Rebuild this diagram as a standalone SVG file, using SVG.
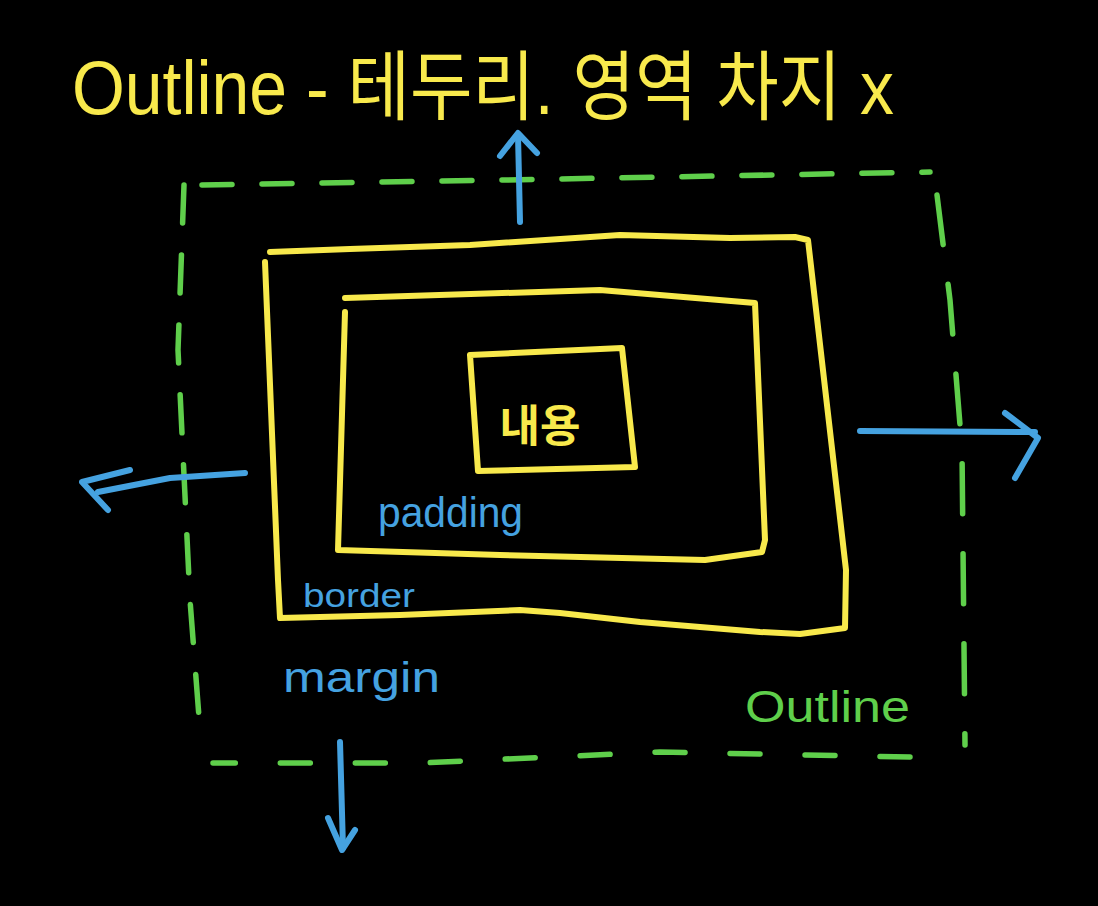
<svg xmlns="http://www.w3.org/2000/svg" width="1098" height="906" viewBox="0 0 1098 906">
<style>
.y{fill:none;stroke:#f8e94c;stroke-width:6;stroke-linecap:round;stroke-linejoin:round}
.g{fill:none;stroke:#5fcf4b;stroke-width:5.5;stroke-linecap:round;stroke-linejoin:round}
.b{fill:none;stroke:#45a2e0;stroke-width:6;stroke-linecap:round;stroke-linejoin:round}
.ty{fill:#f8e94c;font-family:"Liberation Sans","Noto Sans CJK KR",sans-serif}
.tb{fill:#45a2e0;font-family:"Liberation Sans",sans-serif}
.tg{fill:#5fcf4b;font-family:"Liberation Sans",sans-serif}
</style>
<rect x="0" y="0" width="1098" height="906" fill="#000"/>
<g id="title">
<text class="ty" x="72" y="114" font-size="76" textLength="822" lengthAdjust="spacingAndGlyphs">Outline - 테두리. 영역 차지 x</text>
</g>
<g id="outline-box">
<path class="g" d="M202,185 L505,180 L930,172" stroke-dasharray="30 30"/>
<path class="g" d="M937,195 L950,300 L962,450 L965,745" stroke-dasharray="50 40"/>
<path class="g" d="M910,757 L660,752 L420,763 L213,763" stroke-dasharray="30 45"/>
<path class="g" d="M184,185 L178,350 L190,600 L200,730" stroke-dasharray="38 32"/>
<text class="tg" x="745" y="722" font-size="44" textLength="165" lengthAdjust="spacingAndGlyphs">Outline</text>
</g>
<g id="border-box">
<path class="y" d="M265,262 L278,580 L280,618 L400,615 L520,610 L560,613 L640,622 L760,632 L800,634 L845,628 L846,570 L808,240 L795,237 L730,238 L620,235 L470,245 L350,249 L270,252"/>
<text class="tb" x="303" y="607" font-size="34" textLength="112" lengthAdjust="spacingAndGlyphs">border</text>
</g>
<g id="padding-box">
<path class="y" d="M345,312 L338,550 L500,555 L705,560 L762,552 L765,540 L755,303 L600,290 L345,298"/>
<text class="tb" x="378" y="527" font-size="42" textLength="145" lengthAdjust="spacingAndGlyphs">padding</text>
</g>
<g id="content-box">
<path class="y" d="M470,355 L622,348 L635,467 L478,471 Z"/>
<text class="ty" x="540" y="442" font-size="44" font-weight="bold" text-anchor="middle" font-family="'Noto Sans CJK KR',sans-serif">내용</text>
</g>
<g id="margin-label">
<text class="tb" x="283" y="692" font-size="42" textLength="157" lengthAdjust="spacingAndGlyphs">margin</text>
</g>
<g id="connectors">
<path class="b" d="M520,222 L518,135"/>
<path class="b" d="M500,156 L518,133 L537,153"/>
<path class="b" d="M245,473 L170,478 L98,492"/>
<path class="b" d="M130,470 L82,482 L108,510"/>
<path class="b" d="M860,431 L1035,432"/>
<path class="b" d="M1005,413 L1038,438 L1015,478"/>
<path class="b" d="M340,742 L343,848"/>
<path class="b" d="M328,818 L342,850 L355,830"/>
</g>
</svg>
